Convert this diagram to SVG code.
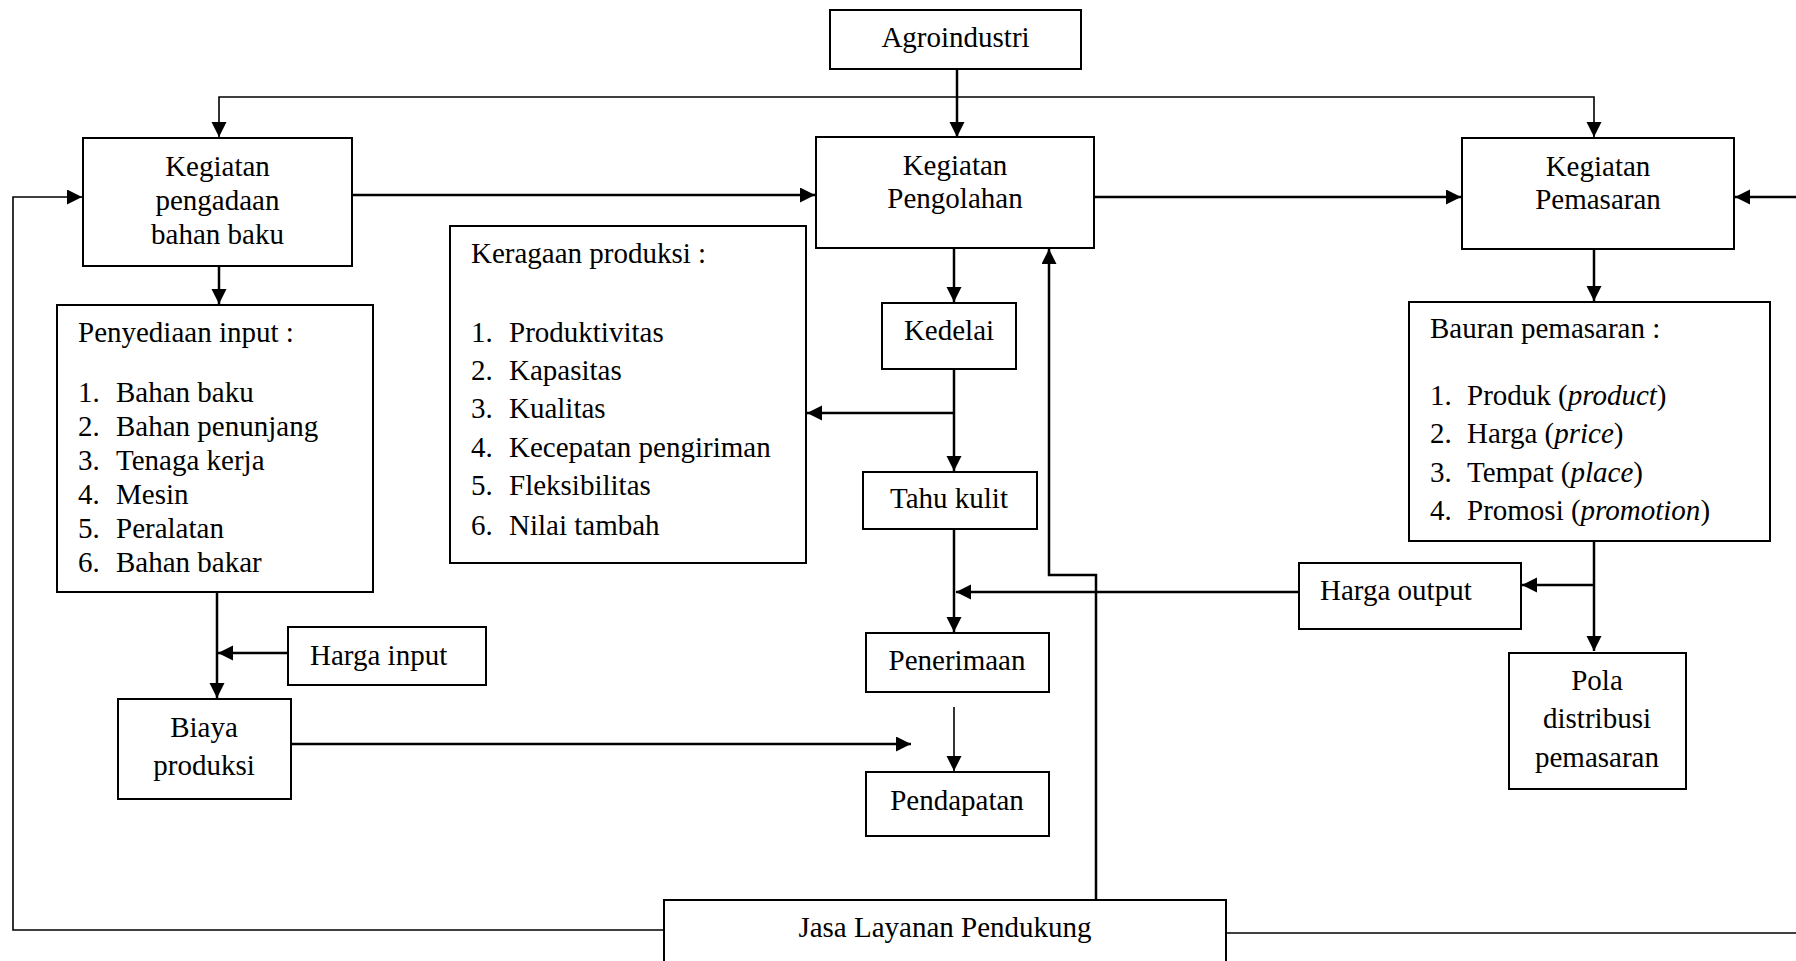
<svg xmlns="http://www.w3.org/2000/svg" width="1796" height="961" viewBox="0 0 1796 961">
<style>
.box{fill:#fff;stroke:#000;stroke-width:2}
text{font-family:"Liberation Serif","Times New Roman",serif;font-size:29px;fill:#000}
.c{text-anchor:middle}
.ln{fill:none;stroke:#000;stroke-width:2.5}
.th{fill:none;stroke:#000;stroke-width:1.6}
.a{marker-end:url(#ah)}
</style>
<defs>
<marker id="ah" markerUnits="userSpaceOnUse" markerWidth="16" markerHeight="16" refX="15" refY="7.5" orient="auto">
<path d="M0,0 L15,7.5 L0,15 z" fill="#000"/>
</marker>
</defs>
<rect width="1796" height="961" fill="#fff"/>
<g id="connectors">
<path class="ln a" d="M957,69 V137"/>
<path class="th a" d="M957,97 H219 V137"/>
<path class="th a" d="M957,97 H1594 V137"/>
<path class="ln a" d="M352,195 H815"/>
<path class="ln a" d="M1094,197 H1461"/>
<path class="ln a" d="M1796,197 H1735"/>
<path class="th a" d="M664,930 H13 V197 H82"/>
<path class="th" d="M1226,933 H1796"/>
<path class="ln a" d="M219,266 V304"/>
<path class="ln a" d="M217,592 V698"/>
<path class="ln a" d="M288,653 H218"/>
<path class="ln a" d="M291,744 H911"/>
<path class="ln a" d="M954,248 V302"/>
<path class="ln a" d="M954,369 V471"/>
<path class="ln a" d="M954,413 H807"/>
<path class="ln a" d="M954,529 V632"/>
<path class="ln a" d="M1299,592 H956"/>
<path class="th a" d="M954,707 V771"/>
<path class="ln a" d="M1096,900 V575 H1049 V249"/>
<path class="ln a" d="M1594,249 V301"/>
<path class="ln a" d="M1594,541 V651"/>
<path class="ln a" d="M1594,585 H1522"/>
</g>
<g id="agroindustri">
<rect class="box" x="830" y="10" width="251" height="59"/>
<text class="c" x="955.5" y="47">Agroindustri</text>
</g>
<g id="pengadaan">
<rect class="box" x="83" y="138" width="269" height="128"/>
<text class="c" x="217.5" y="176">Kegiatan</text>
<text class="c" x="217.5" y="210">pengadaan</text>
<text class="c" x="217.5" y="244">bahan baku</text>
</g>
<g id="pengolahan">
<rect class="box" x="816" y="137" width="278" height="111"/>
<text class="c" x="955" y="175">Kegiatan</text>
<text class="c" x="955" y="208">Pengolahan</text>
</g>
<g id="pemasaran">
<rect class="box" x="1462" y="138" width="272" height="111"/>
<text class="c" x="1598" y="176">Kegiatan</text>
<text class="c" x="1598" y="209">Pemasaran</text>
</g>
<g id="penyediaan">
<rect class="box" x="57" y="305" width="316" height="287"/>
<text x="78" y="342">Penyediaan input :</text>
<text x="78" y="402">1.</text><text x="116" y="402">Bahan baku</text>
<text x="78" y="436">2.</text><text x="116" y="436">Bahan penunjang</text>
<text x="78" y="470">3.</text><text x="116" y="470">Tenaga kerja</text>
<text x="78" y="504">4.</text><text x="116" y="504">Mesin</text>
<text x="78" y="538">5.</text><text x="116" y="538">Peralatan</text>
<text x="78" y="572">6.</text><text x="116" y="572">Bahan bakar</text>
</g>
<g id="keragaan">
<rect class="box" x="450" y="226" width="356" height="337"/>
<text x="471" y="263">Keragaan produksi :</text>
<text x="471" y="342">1.</text><text x="509" y="342">Produktivitas</text>
<text x="471" y="380">2.</text><text x="509" y="380">Kapasitas</text>
<text x="471" y="418">3.</text><text x="509" y="418">Kualitas</text>
<text x="471" y="457">4.</text><text x="509" y="457">Kecepatan pengiriman</text>
<text x="471" y="495">5.</text><text x="509" y="495">Fleksibilitas</text>
<text x="471" y="535">6.</text><text x="509" y="535">Nilai tambah</text>
</g>
<g id="kedelai">
<rect class="box" x="882" y="303" width="134" height="66"/>
<text class="c" x="949" y="340">Kedelai</text>
</g>
<g id="tahukulit">
<rect class="box" x="863" y="472" width="174" height="57"/>
<text class="c" x="949" y="508">Tahu kulit</text>
</g>
<g id="penerimaan">
<rect class="box" x="866" y="633" width="183" height="59"/>
<text class="c" x="957" y="670">Penerimaan</text>
</g>
<g id="pendapatan">
<rect class="box" x="866" y="772" width="183" height="64"/>
<text class="c" x="957" y="810">Pendapatan</text>
</g>
<g id="hargainput">
<rect class="box" x="288" y="627" width="198" height="58"/>
<text x="310" y="665">Harga input</text>
</g>
<g id="biaya">
<rect class="box" x="118" y="699" width="173" height="100"/>
<text class="c" x="204" y="737">Biaya</text>
<text class="c" x="204" y="775">produksi</text>
</g>
<g id="bauran">
<rect class="box" x="1409" y="302" width="361" height="239"/>
<text x="1430" y="338">Bauran pemasaran :</text>
<text x="1430" y="405">1.</text><text x="1467" y="405">Produk (<tspan font-style="italic">product</tspan>)</text>
<text x="1430" y="443">2.</text><text x="1467" y="443">Harga (<tspan font-style="italic">price</tspan>)</text>
<text x="1430" y="482">3.</text><text x="1467" y="482">Tempat (<tspan font-style="italic">place</tspan>)</text>
<text x="1430" y="520">4.</text><text x="1467" y="520">Promosi (<tspan font-style="italic">promotion</tspan>)</text>
</g>
<g id="hargaoutput">
<rect class="box" x="1299" y="563" width="222" height="66"/>
<text x="1320" y="600">Harga output</text>
</g>
<g id="pola">
<rect class="box" x="1509" y="653" width="177" height="136"/>
<text class="c" x="1597" y="690">Pola</text>
<text class="c" x="1597" y="728">distribusi</text>
<text class="c" x="1597" y="767">pemasaran</text>
</g>
<g id="jasa">
<rect class="box" x="664" y="900" width="562" height="70"/>
<text class="c" x="945" y="937">Jasa Layanan Pendukung</text>
</g>
</svg>
